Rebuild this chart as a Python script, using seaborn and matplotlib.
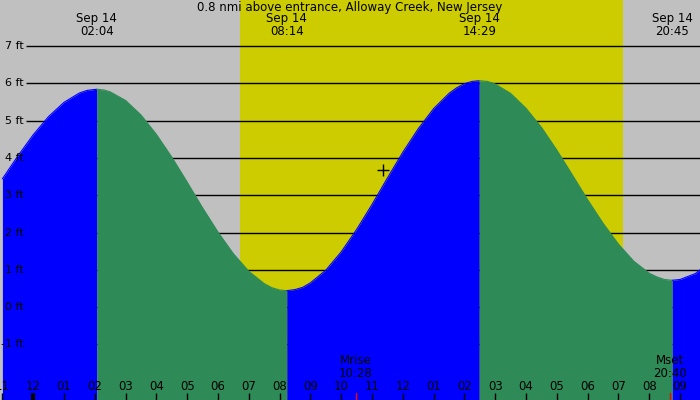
import numpy as np
import pandas as pd
import matplotlib
matplotlib.use("Agg")
import matplotlib.pyplot as plt
import matplotlib.transforms as mtransforms
import seaborn as sns

# Datos (horas desde medianoche del 14 sep, pies)
tide_hours = [-1.08, -1.0, -0.5, 0.0, 0.5, 1.0, 1.5, 1.75, 2.067, 2.3, 2.5, 3.0,
              3.5, 4.0, 4.5, 5.0, 5.5, 6.0, 6.5, 7.0, 7.5, 7.75, 8.0, 8.233,
              8.5, 8.75, 9.0, 9.5, 10.0, 10.5, 11.0, 11.5, 12.0, 12.5, 13.0,
              13.5, 13.75, 14.0, 14.25, 14.483, 14.75, 15.0, 15.5, 16.0, 16.5,
              17.0, 17.5, 18.0, 18.5, 19.0, 19.5, 20.0, 20.25, 20.5, 20.75,
              21.0, 21.5, 21.65]
tide_ft = [3.34, 3.44, 4.05, 4.62, 5.11, 5.49, 5.74, 5.81, 5.84, 5.82, 5.77, 5.54,
           5.15, 4.63, 4.02, 3.35, 2.66, 2.01, 1.43, 0.96, 0.63, 0.52, 0.46, 0.44,
           0.47, 0.53, 0.65, 0.99, 1.48, 2.08, 2.75, 3.46, 4.15, 4.78, 5.32,
           5.73, 5.88, 5.99, 6.05, 6.07, 6.05, 5.98, 5.73, 5.33, 4.82,
           4.21, 3.55, 2.88, 2.25, 1.69, 1.23, 0.91, 0.81, 0.74, 0.72,
           0.74, 0.90, 1.00]

extreme_hours = [2.067, 8.233, 14.483, 20.75]
extreme_labels = ["Sep 14\n02:04", "Sep 14\n08:14", "Sep 14\n14:29", "Sep 14\n20:45"]

sunrise, sunset = 6.71, 19.15
moon_hours = [10.467, 20.667]
moon_labels = ["Mrise\n10:28", "Mset\n20:40"]
now_hour, now_ft = 11.37, 3.67

hour_ticks = list(range(-1, 22))
hour_labels = ["11", "12", "01", "02", "03", "04", "05", "06", "07", "08", "09",
               "10", "11", "12", "01", "02", "03", "04", "05", "06", "07", "08", "09"]
ft_levels = [7, 6, 5, 4, 3, 2, 1, 0, -1]

title = "0.8 nmi above entrance, Alloway Creek, New Jersey"

# Colores
night_c = "#c0c0c0"
day_c = "#cccc00"
rise_c = "#0000ff"
fall_c = "#2e8b57"

sns.set_theme(style="white")
plt.rcParams["font.family"] = ["DejaVu Sans"]
plt.rcParams["text.color"] = "black"

df = pd.DataFrame({"hora": tide_hours, "altura": tide_ft})

fig = plt.figure(figsize=(7, 4), dpi=100)
ax = fig.add_axes([0, 0, 1, 1])
xmin, xmax = -1.078, 21.65
ymin, ymax = -2.49, 8.233
ax.set_xlim(xmin, xmax)
ax.set_ylim(ymin, ymax)
ax.set_facecolor(night_c)
ax.set_axisbelow(False)
for s in ax.spines.values():
    s.set_visible(False)

ax.axvspan(sunrise, sunset, color=day_c, lw=0, zorder=0)

# lineas horizontales
ax.hlines(ft_levels, -0.234, xmax, color="black", lw=1, zorder=1)

# relleno: subida azul, bajada verde
bounds = [xmin] + extreme_hours + [xmax]
h = np.array(tide_hours)
for i in range(len(bounds) - 1):
    lo, hi = bounds[i], bounds[i + 1]
    rising = (i % 2 == 0)
    col = rise_c if rising else fall_c
    mask = (h >= lo - 1e-9) & (h <= hi + 1e-9)
    seg = df[mask]
    ax.fill_between(seg["hora"], ymin, seg["altura"], color=col, lw=0, zorder=2)
    sns.lineplot(data=seg, x="hora", y="altura", color=col, lw=0.8, ax=ax,
                 zorder=2, sort=False, estimator=None)

# etiquetas de pies
for v in ft_levels:
    ax.text(-0.30, v, f"{v} ft", ha="right", va="center", fontsize=8, color="black", zorder=4)

# marcador de hora actual
ax.plot([now_hour], [now_ft], marker="+", ms=9, mew=1, color="black", zorder=4)

# titulo y extremos
ax.text((xmin + xmax) / 2, 8.02, title, ha="center", va="center", fontsize=8.5,
        color="black", zorder=4)
for x, lab in zip(extreme_hours, extreme_labels):
    ax.text(x, 7.56, lab, ha="center", va="center", fontsize=8.5, linespacing=1.0,
            color="black", zorder=4)

# eje de horas
trans = mtransforms.blended_transform_factory(ax.transData, ax.transAxes)
ax.set_xticks(hour_ticks)
ax.set_yticks([])
ax.tick_params(axis="x", direction="in", length=5, width=1, color="black",
               labelbottom=False, bottom=True, zorder=5)
ax.xaxis.get_major_ticks()[1].tick1line.set_markeredgewidth(3)
for x, lab in zip(hour_ticks, hour_labels):
    ax.text(x, 0.035, lab, transform=trans, ha="center", va="center", fontsize=8.5,
            color="black", zorder=4)

for x, lab in zip(moon_hours, moon_labels):
    ax.axvline(x, ymin=0, ymax=0.0175, color="red", lw=1, zorder=6)
    ax.text(x, 0.083, lab, transform=trans, ha="center", va="center", fontsize=8.5,
            linespacing=1.0, color="black", zorder=4)

ax.set_xlabel("")
ax.set_ylabel("")
fig.savefig("out.png", dpi=100)
